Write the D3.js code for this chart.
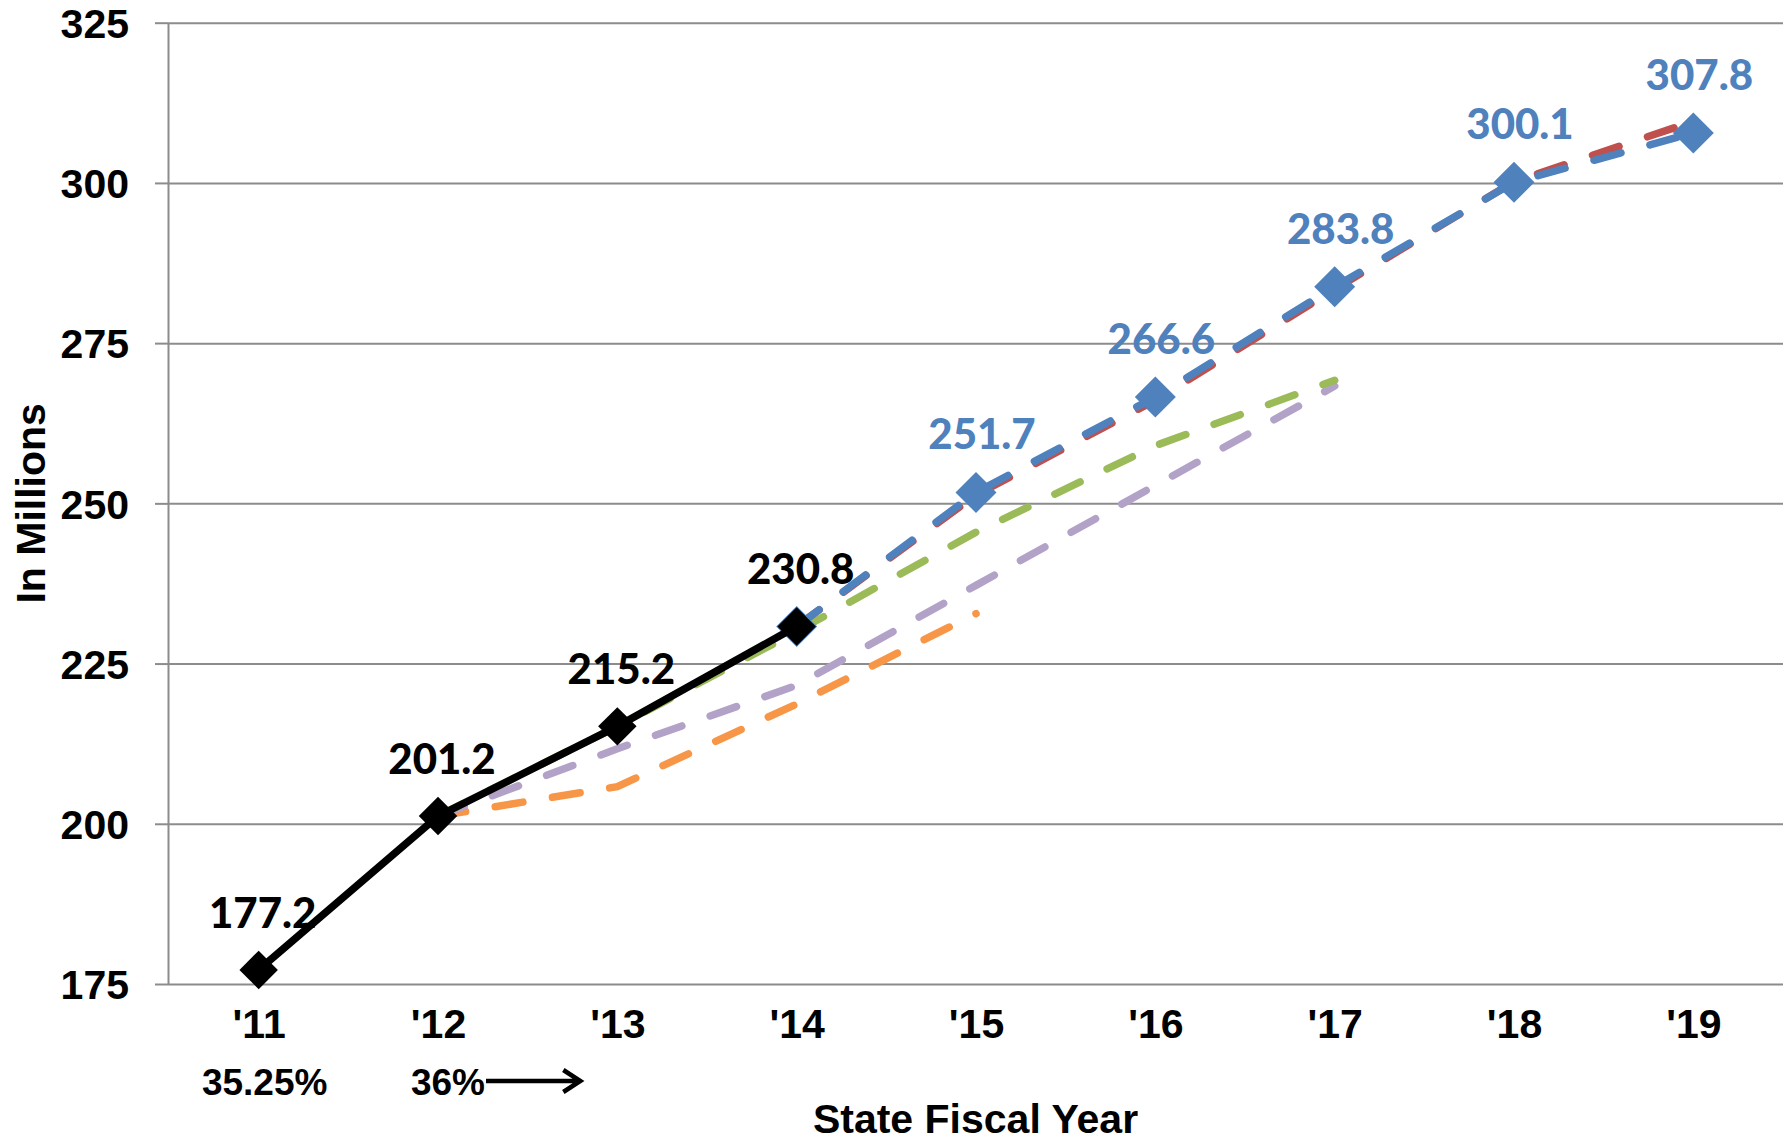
<!DOCTYPE html>
<html lang="en">
<head>
<meta charset="utf-8">
<title>State Fiscal Year projections</title>
<script src="https://d3js.org/d3.v7.min.js"></script>
<style>
  body { margin: 0; background: #fff; }
  svg { display: block; }
  .tick text { font-family: "Liberation Sans", Arial, sans-serif; font-weight: bold; fill: #000; }
  .lbl { font-family: Lato, "Open Sans", sans-serif; font-weight: 900; }
</style>
</head>
<body>
<script>
// categories
var years = ["'11", "'12", "'13", "'14", "'15", "'16", "'17", "'18", "'19"];
var yTicks = [175, 200, 225, 250, 275, 300, 325];

// series (null = no value)
var actual   = [177.2, 201.2, 215.2, 230.8, null, null, null, null, null];
var projBlue = [null, null, null, 230.8, 251.7, 266.6, 283.8, 300.1, 307.8];
var projRed  = [null, null, null, 230.8, 251.3, 266.1, 283.4, 300.2, 309.6];
var projGreen  = [null, 201.2, 215.2, 230.0, 245.5, 259.0, 269.2, null, null];
var projPurple = [null, 201.2, 211.7, 221.6, 237.2, 252.8, 268.3, null, null];
var projOrange = [null, 201.2, 205.8, 218.7, 232.8, null, null, null, null];

var rates = ["35.25%", "36%"];

var W = 1792, H = 1145;
var mLeft = 168, mRight = 1783, mTop = 22.7, mBottom = 984;

var svg = d3.select("body").append("svg")
    .attr("width", W)
    .attr("height", H);

var x = d3.scalePoint()
    .domain(years)
    .range([mLeft + 1, mRight])
    .padding(0.5);

var y = d3.scaleLinear()
    .domain([175, 325])
    .range([mBottom, mTop]);

// gridlines
svg.append("g")
    .attr("transform", "translate(" + mLeft + ",0)")
    .call(d3.axisLeft(y).tickValues(yTicks).tickSize(-(mRight - mLeft)).tickFormat(""))
    .call(function(g) { g.select(".domain").remove(); })
    .selectAll("line")
    .attr("stroke", "#8c8c8c")
    .attr("stroke-width", 2);

// y axis
var yAxis = svg.append("g")
    .attr("transform", "translate(" + mLeft + ",0)")
    .call(d3.axisLeft(y).tickValues(yTicks).tickSize(13).tickPadding(26).tickSizeOuter(0));
yAxis.select(".domain").attr("stroke", "#8c8c8c").attr("stroke-width", 2);
yAxis.selectAll("line").attr("stroke", "#8c8c8c").attr("stroke-width", 2);
yAxis.selectAll("text").attr("font-size", 41).attr("dy", "0.36em");

// x axis
var xAxis = svg.append("g")
    .attr("transform", "translate(0," + mBottom + ")")
    .call(d3.axisBottom(x).tickSize(0).tickPadding(25));
xAxis.select(".domain").remove();
xAxis.selectAll("text").attr("font-size", 41);

// axis titles
svg.append("text")
    .attr("x", (mLeft + mRight) / 2)
    .attr("y", 1133)
    .attr("text-anchor", "middle")
    .attr("font-family", "Liberation Sans, Arial, sans-serif")
    .attr("font-weight", "bold")
    .attr("font-size", 41)
    .text("State Fiscal Year");

svg.append("text")
    .attr("transform", "translate(45," + ((mTop + mBottom) / 2) + ") rotate(-90)")
    .attr("text-anchor", "middle")
    .attr("font-family", "Liberation Sans, Arial, sans-serif")
    .attr("font-weight", "bold")
    .attr("font-size", 41)
    .text("In Millions");

// lines
var line = d3.line()
    .defined(function(d) { return d != null; })
    .x(function(d, i) { return x(years[i]); })
    .y(function(d) { return y(d); });

var dashed = [
  { data: projOrange, color: "#F79646" },
  { data: projPurple, color: "#B3A2C7" },
  { data: projGreen,  color: "#9BBB59" },
  { data: projRed,    color: "#C0504D" },
  { data: projBlue,   color: "#4F81BD" }
];

dashed.forEach(function(s) {
  svg.append("path")
    .attr("d", line(s.data))
    .attr("fill", "none")
    .attr("stroke", s.color)
    .attr("stroke-width", 7.5)
    .attr("stroke-linecap", "round")
    .attr("stroke-dasharray", "28,30");
});

var diamond = function(size) {
  return d3.symbol().type(d3.symbolSquare).size(size)();
};

function pts(arr) {
  return arr.map(function(v, i) { return { v: v, i: i }; }).filter(function(d) { return d.v != null; });
}

// blue markers
svg.append("g").selectAll("path")
    .data(pts(projBlue))
    .enter().append("path")
    .attr("d", diamond(840))
    .attr("fill", "#4F81BD")
    .attr("transform", function(d) { return "translate(" + x(years[d.i]) + "," + y(d.v) + ") rotate(45)"; });

// actual
svg.append("path")
    .attr("d", line(actual))
    .attr("fill", "none")
    .attr("stroke", "#000")
    .attr("stroke-width", 7.5);

svg.append("g").selectAll("path")
    .data(pts(actual))
    .enter().append("path")
    .attr("d", diamond(740))
    .attr("fill", "#000")
    .attr("transform", function(d) { return "translate(" + x(years[d.i]) + "," + y(d.v) + ") rotate(45)"; });

// data labels
svg.append("g").selectAll("text")
    .data(pts(actual))
    .enter().append("text")
    .attr("class", "lbl")
    .attr("x", function(d) { return x(years[d.i]) + 4; })
    .attr("y", function(d) { return y(d.v) - 42; })
    .attr("text-anchor", "middle")
    .attr("font-size", 42)
    .attr("fill", "#000")
    .text(function(d) { return d.v.toFixed(1); });

svg.append("g").selectAll("text")
    .data(pts(projBlue).filter(function(d) { return d.i > 3; }))
    .enter().append("text")
    .attr("class", "lbl")
    .attr("x", function(d) { return x(years[d.i]) + 6; })
    .attr("y", function(d) { return y(d.v) - 43; })
    .attr("text-anchor", "middle")
    .attr("font-size", 42)
    .attr("fill", "#4F81BD")
    .text(function(d) { return d.v.toFixed(1); });

// rate annotations
var rateY = 1095;
svg.append("text")
    .attr("x", x(years[0]) + 6)
    .attr("y", rateY)
    .attr("text-anchor", "middle")
    .attr("font-family", "Liberation Sans, Arial, sans-serif")
    .attr("font-weight", "bold")
    .attr("font-size", 37)
    .text(rates[0]);

svg.append("text")
    .attr("x", x(years[1]) + 47)
    .attr("y", rateY)
    .attr("text-anchor", "end")
    .attr("font-family", "Liberation Sans, Arial, sans-serif")
    .attr("font-weight", "bold")
    .attr("font-size", 37)
    .text(rates[1]);

var ax0 = x(years[1]) + 48, ax1 = x(years[2]) - 37, ay = rateY - 14;
svg.append("path")
    .attr("d", "M" + ax0 + "," + ay + "H" + ax1 + "M" + (ax1 - 17) + "," + (ay - 11) + "L" + ax1 + "," + ay + "L" + (ax1 - 17) + "," + (ay + 11))
    .attr("fill", "none")
    .attr("stroke", "#000")
    .attr("stroke-width", 4.5);
</script>
</body>
</html>
